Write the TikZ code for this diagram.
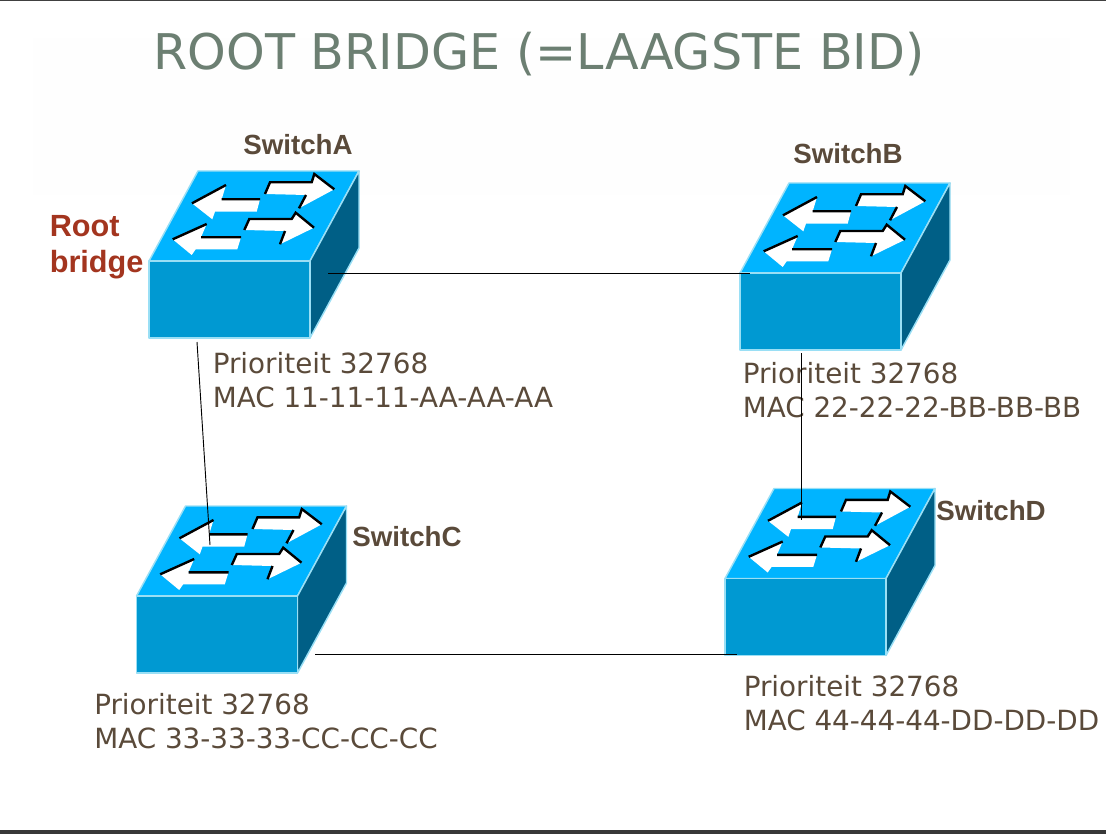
\documentclass[tikz,border=0pt]{standalone}
\usepackage{fontspec}
\setmainfont{DejaVu Sans}
\newfontfamily\labelfont{Liberation Sans}
\usetikzlibrary{positioning,calc}
\definecolor{topblue}{HTML}{00B4FF}
\definecolor{frontblue}{HTML}{0099D2}
\definecolor{sideblue}{HTML}{005F86}
\definecolor{edgeblue}{HTML}{9ADFF5}
\definecolor{titlegrey}{HTML}{6C7F72}
\definecolor{textbrown}{HTML}{5A4A3A}
\definecolor{rootred}{HTML}{A3351F}
\tikzset{
    face/.style={draw=edgeblue,line width=1.1pt,line join=round},
    arrowfill/.style={fill=white,draw=none},
    arrowedge/.style={black,line width=1.8pt},
    info/.style={anchor=west,align=left,text=textbrown,font=\fontsize{20.85}{25.2}\selectfont,inner sep=0pt},
    swname/.style={anchor=center,text=textbrown,font=\labelfont\fontsize{20.8}{25}\selectfont\bfseries,inner sep=0pt},
    link/.style={black,line width=0.7pt},
    pics/switch/.style={code={
        \path[face,fill=topblue] (0,-77) -- (49,-167) -- (210,-167) -- (161,-77) -- cycle;
        \path[face,fill=sideblue] (161,-77) -- (210,-167) -- (210,-90) -- (161,0) -- cycle;
        \path[face,fill=frontblue] (0,0) rectangle (161,-77);
        % left arrows
        \fill[arrowfill] (43,-134.7) -- (77,-153) -- (72.7,-138.7) -- (111,-138.7) -- (107.7,-126.3) -- (66,-126.3) -- (63.3,-118.7) -- cycle;
        \draw[arrowedge] (43,-134.7) -- (77,-153) (72.7,-138.7) -- (111,-138.7);
        \fill[arrowfill] (23.7,-98.7) -- (57.7,-114) -- (52,-100.7) -- (92,-100.7) -- (88.3,-88.7) -- (46.7,-88.7) -- (42.7,-83) -- cycle;
        \draw[arrowedge] (23.7,-98.7) -- (57.7,-114) (52,-100.7) -- (92,-100.7);
        % right arrows
        \fill[arrowfill] (185.3,-148.7) -- (165.3,-164) -- (162.7,-155.7) -- (121,-155.7) -- (116,-144) -- (157,-143) -- (150,-129.7) -- cycle;
        \draw[arrowedge] (185.3,-148.7) -- (165.3,-164) -- (162.7,-155.7) -- (121,-155.7) -- (116,-144) (157,-143) -- (150,-129.7);
        \fill[arrowfill] (165,-110.3) -- (146.7,-125.3) -- (142.7,-119) -- (100.3,-119) -- (95.3,-108) -- (136,-107) -- (131,-93.7) -- cycle;
        \draw[arrowedge] (165,-110.3) -- (146.7,-125.3) -- (142.7,-119) -- (100.3,-119) -- (95.3,-108) (136,-107) -- (131,-93.7);
    }}
}
\begin{document}
\begin{tikzpicture}[x=0.75pt,y=-0.75pt]
        \useasboundingbox (0,0) rectangle (1106,834);
        \fill[black!0.4] (33,38) rectangle (1070,195);
        \fill[black!75] (0,0) rectangle (1106,1);
        \fill[black!78] (0,830) rectangle (1106,834);
        \node[text=titlegrey,font=\fontsize{36.9}{45}\selectfont,inner sep=0pt] (title) at (539,54) {ROOT BRIDGE (=LAAGSTE BID)};
        \pic (swA) at (149,338) {switch};
        \pic (swB) at (740,350) {switch};
        \pic (swC) at (136.5,673) {switch};
        \pic (swD) at (725,655.5) {switch};
        \node[swname] (nameA) at (298,145) {SwitchA};
        \node[swname] (nameB) at (848,154) {SwitchB};
        \node[swname] (nameC) at (407,537) {SwitchC};
        \node[swname] (nameD) at (991,511) {SwitchD};
        \node[anchor=west,align=left,text=rootred,font=\labelfont\fontsize{23}{27}\selectfont\bfseries,inner sep=0pt] (root) at (49.5,247) {Root\\bridge};
        \node[info] (infoA) at (212.5,380) {Prioriteit 32768\\MAC 11-11-11-AA-AA-AA};
        \node[info] (infoB) at (742.5,390) {Prioriteit 32768\\MAC 22-22-22-BB-BB-BB};
        \node[info] (infoC) at (94,721) {Prioriteit 32768\\MAC 33-33-33-CC-CC-CC};
        \node[info] (infoD) at (743.5,703) {Prioriteit 32768\\MAC 44-44-44-DD-DD-DD};
        \coordinate (endAr) at (328,273);
        \coordinate (endBl) at (750,273);
        \coordinate (endAb) at (197,342);
        \coordinate (endCt) at (210,545);
        \coordinate (endBb) at (801,353);
        \coordinate (endDt) at (801,520);
        \coordinate (endCr) at (315,654);
        \coordinate (endDl) at (737,654);
        \draw[link] (endAr) -- (endBl);
        \draw[link] (endAb) -- (endCt);
        \draw[link] (endBb) -- (endDt);
        \draw[link] (endCr) -- (endDl);
    \end{tikzpicture}
\end{document}
